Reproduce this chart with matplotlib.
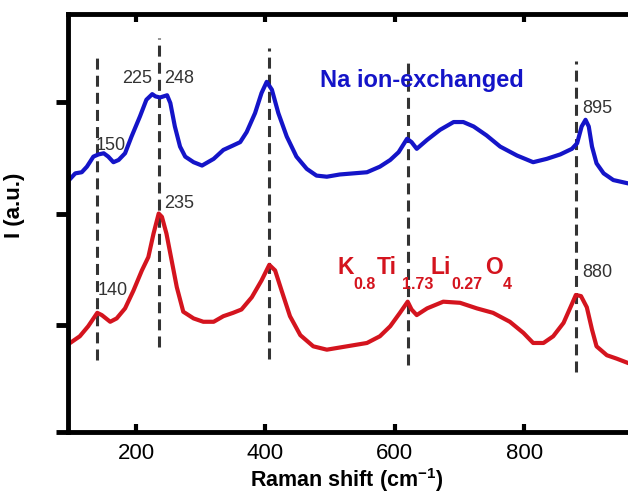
import matplotlib
matplotlib.use('Agg')
from matplotlib import pyplot as plt

plt.rcParams['font.family'] = ['Liberation Sans', 'DejaVu Sans']
plt.rcParams['mathtext.fontset'] = 'custom'
plt.rcParams['mathtext.rm'] = 'Liberation Sans:bold'
plt.rcParams['mathtext.bf'] = 'Liberation Sans:bold'
plt.rcParams['mathtext.default'] = 'bf'

# Na ion-exchanged sample (upper trace)
na_shift = [98, 106, 116, 124, 134, 142, 150, 157, 165, 173, 183, 193, 206, 216,
            225, 230, 237, 248, 253, 260, 268, 276, 289, 302, 320, 335, 350, 361,
            371, 384, 394, 402, 410, 420, 433, 448, 464, 479, 495, 515, 536, 557,
            577, 593, 606, 619, 626, 634, 650, 670, 691, 706, 722, 742, 763, 789,
            814, 835, 856, 874, 882, 889, 895, 900, 905, 912, 923, 938, 961]
na_int = [2.31, 2.36, 2.37, 2.42, 2.51, 2.53, 2.54, 2.51, 2.46, 2.48, 2.54, 2.69,
          2.87, 3.02, 3.07, 3.05, 3.04, 3.06, 2.99, 2.78, 2.60, 2.51, 2.46, 2.43,
          2.49, 2.57, 2.61, 2.64, 2.73, 2.90, 3.08, 3.18, 3.11, 2.90, 2.69, 2.51,
          2.40, 2.34, 2.33, 2.35, 2.36, 2.37, 2.42, 2.48, 2.55, 2.67, 2.64, 2.58,
          2.66, 2.75, 2.82, 2.82, 2.78, 2.70, 2.60, 2.52, 2.46, 2.49, 2.53, 2.58,
          2.63, 2.78, 2.84, 2.78, 2.60, 2.45, 2.36, 2.30, 2.27]

# K0.8Ti1.73Li0.27O4 (lower trace)
k_shift = [98, 113, 126, 140, 147, 160, 170, 183, 196, 209, 219, 227, 235, 240,
           247, 255, 263, 273, 289, 304, 320, 335, 350, 363, 379, 394, 406, 415,
           425, 438, 454, 474, 495, 526, 557, 577, 593, 608, 620, 626, 634, 650,
           675, 701, 727, 752, 778, 799, 814, 830, 845, 861, 874, 880, 888, 897,
           905, 912, 928, 943, 961]
k_int = [0.84, 0.90, 0.99, 1.11, 1.09, 1.03, 1.06, 1.15, 1.31, 1.49, 1.61, 1.82,
         2.00, 1.97, 1.82, 1.58, 1.34, 1.12, 1.06, 1.03, 1.03, 1.08, 1.11, 1.14,
         1.25, 1.40, 1.54, 1.49, 1.31, 1.08, 0.91, 0.81, 0.78, 0.81, 0.84, 0.90,
         0.99, 1.11, 1.21, 1.14, 1.09, 1.15, 1.21, 1.20, 1.15, 1.11, 1.03, 0.93,
         0.84, 0.84, 0.90, 1.02, 1.19, 1.27, 1.26, 1.16, 0.96, 0.81, 0.73, 0.70,
         0.66]

# band positions marked with dashed guides
band_pos = [140, 235, 405, 620, 880]
band_top = [3.45, 3.57, 3.48, 3.39, 3.37]
band_bottom = [0.69, 0.80, 0.70, 0.64, 0.58]

# peak labels
na_peaks = [150, 225, 248, 895]
k_peaks = [140, 235, 880]

blue = '#1414c8'
red = '#d4141e'
grey = '#333333'

fig = plt.figure(figsize=(6.28, 4.99), dpi=100)
ax = fig.add_axes([0.1075, 0.1349, 0.933, 0.837])

for x, y0, y1 in zip(band_pos, band_bottom, band_top):
    ax.plot([x, x], [y0, y1], color=grey, lw=2.2, linestyle=(0, (3.6, 2.0)),
            zorder=1)

ax.plot(na_shift, na_int, color=blue, lw=3.0, zorder=2)
ax.plot(k_shift, k_int, color=red, lw=3.0, zorder=2)

# peak values, written next to each band
na_xy = [(138, 2.57), (178, 3.17), (243, 3.17), (890, 2.90)]
for val, (tx, ty) in zip(na_peaks, na_xy):
    ax.text(tx, ty, str(val), fontsize=13, color=grey, ha='left', va='baseline')
k_xy = [(140, 1.27), (243, 2.05), (890, 1.43)]
for val, (tx, ty) in zip(k_peaks, k_xy):
    ax.text(tx, ty, str(val), fontsize=13, color=grey, ha='left', va='baseline')

ax.text(484, 3.13, 'Na ion-exchanged', fontsize=17, fontweight='bold',
        color=blue, ha='left', va='baseline')

# composition label, laid out piece by piece with large subscripts
formula = [('K', 511, False), ('0.8', 536, True), ('Ti', 572, False),
           ('1.73', 611, True), ('Li', 655, False), ('0.27', 687, True),
           ('O', 740, False), ('4', 767, True)]
for s, fx, sub in formula:
    if sub:
        ax.text(fx, 1.32, s, fontsize=11.5, fontweight='bold', color=red,
                ha='left', va='baseline')
    else:
        ax.text(fx, 1.454, s, fontsize=16.5, fontweight='bold', color=red,
                ha='left', va='baseline')

ax.set_xlim(94, 1000)
ax.set_ylim(0.045, 3.788)
ax.set_xticks([200, 400, 600, 800])
ax.set_yticks([0.045, 1, 2, 3])
ax.set_yticklabels([])
ax.tick_params(axis='x', direction='in', top=True, length=6, width=3,
               labelsize=16, pad=8)
ax.tick_params(axis='y', direction='out', length=8.6, width=3.5)
for sp in ax.spines.values():
    sp.set_linewidth(3.5)

ax.set_xlabel('Raman shift (cm$^{-1}$)', fontsize=15.5, fontweight='bold')
ax.xaxis.set_label_coords(0.477, -0.082)
ax.set_ylabel('I (a.u.)', fontsize=16, fontweight='bold')
ax.yaxis.set_label_coords(-0.0725, 0.543)

fig.savefig('out.png', dpi=100)
